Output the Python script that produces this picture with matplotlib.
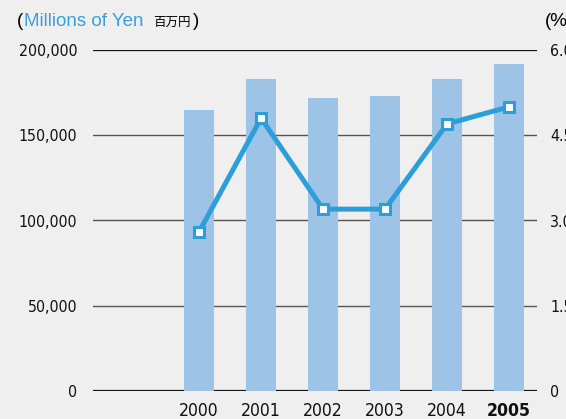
import matplotlib
matplotlib.use("Agg")
import matplotlib.pyplot as plt
from matplotlib import font_manager

# data
years = ["2000", "2001", "2002", "2003", "2004", "2005"]
sales = [165000, 183000, 172000, 173000, 183000, 192000]   # millions of yen (bars)
ratio = [2.8, 4.8, 3.2, 3.2, 4.7, 5.0]                       # percent (line)
left_ticks = [0, 50000, 100000, 150000, 200000]
left_labels = ["0", "50,000", "100,000", "150,000", "200,000"]
right_ticks = [0, 1.5, 3.0, 4.5, 6.0]
right_labels = ["0", "1.5", "3.0", "4.5", "6.0"]

bg = "#efefef"
bar_col = "#9dc3e6"
line_col = "#2c9fda"


def weight_num(w):
    table = {"normal": 400, "regular": 400, "book": 400, "bold": 700}
    return w if isinstance(w, int) else table.get(str(w).lower(), 400)


# narrow numerals: use a condensed face if one is installed
cond = [f for f in font_manager.fontManager.ttflist
        if ("Narrow" in f.name or "ondensed" in f.fname) and f.style == "normal"]
reg = [f for f in cond if weight_num(f.weight) == 400]
bold = [f for f in cond if weight_num(f.weight) == 700]
if reg and bold:
    num_font = font_manager.FontProperties(fname=reg[0].fname)
    num_bold = font_manager.FontProperties(fname=bold[0].fname)
    ysize, xsize = 11.4, 12.6
else:
    num_font = font_manager.FontProperties(family="DejaVu Sans")
    num_bold = font_manager.FontProperties(family="DejaVu Sans", weight="bold")
    ysize, xsize = 10.0, 10.8

fig = plt.figure(figsize=(5.66, 4.19), dpi=100, facecolor=bg)
ax = fig.add_axes([93 / 566, 28 / 419, 444 / 566, 341 / 419])
ax.set_facecolor(bg)
ax2 = ax.twinx()

x = list(range(len(years)))
ax.bar(x, sales, width=0.484, color=bar_col, zorder=2)

# horizontal rules behind the bars
for t in left_ticks:
    edge = t in (left_ticks[0], left_ticks[-1])
    ax.axhline(t, color="#111111" if edge else "#555555",
               lw=1.6 if edge else 1.0, zorder=0.5)

ax2.plot(x, ratio, color=line_col, lw=3.6, marker="s", ms=7.2,
         mfc="white", mec=line_col, mew=2.2, zorder=3)

ax.set_xlim(-1.71, 5.45)
ax.set_ylim(0, 200000)
ax2.set_ylim(0, 6.0)

ax.set_yticks(left_ticks)
ax.set_yticklabels(left_labels)
ax2.set_yticks(right_ticks)
ax2.set_yticklabels(right_labels)
ax.set_xticks(x)
ax.set_xticklabels(years)
for lab in ax.get_yticklabels() + ax2.get_yticklabels():
    lab.set_fontproperties(num_font)
    lab.set_fontsize(ysize)
    lab.set_color("#111111")
xlabs = ax.get_xticklabels()
for lab in xlabs:
    lab.set_fontproperties(num_font)
    lab.set_fontsize(xsize)
    lab.set_color("#111111")
xlabs[-1].set_fontproperties(num_bold)
xlabs[-1].set_fontsize(xsize)

ax.tick_params(axis="y", length=0, pad=11.3)
ax2.tick_params(axis="y", length=0, pad=9.5)
ax.tick_params(axis="x", length=0, pad=8)

for a in (ax, ax2):
    for s in a.spines.values():
        s.set_visible(False)

# header texts
yb = 1 - 26 / 419
fig.text(17 / 566, yb, "(", fontsize=13.5, family="Liberation Sans", va="baseline")
fig.text(24 / 566, yb, "Millions of Yen", fontsize=13.5, family="Liberation Sans",
         color="#3aa0dc", va="baseline")
fig.text(153 / 566, yb, "百万円", fontsize=9.0, family=["Noto Sans CJK JP", "DejaVu Sans"],
         va="baseline")
fig.text(192.5 / 566, yb, ")", fontsize=13.5, family="Liberation Sans", va="baseline")
fig.text(545 / 566, yb, "(%", fontsize=13.5, family="Liberation Sans", va="baseline")

fig.savefig("out.png", dpi=100, facecolor=bg)
